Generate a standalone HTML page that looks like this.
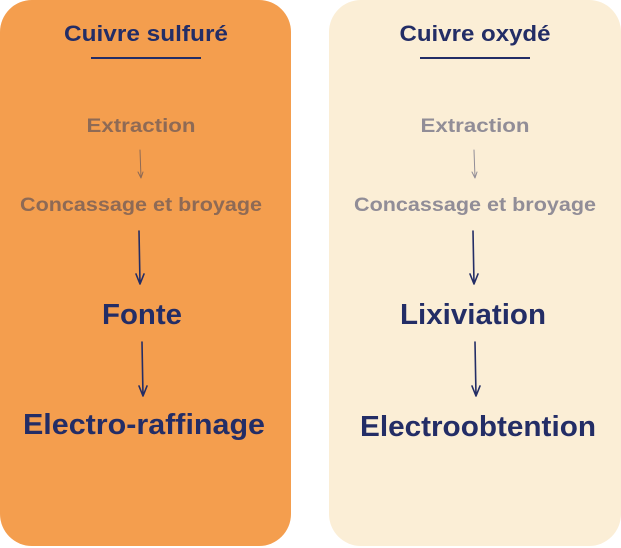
<!DOCTYPE html>
<html><head><meta charset="utf-8"><style>
html,body{margin:0;padding:0;background:#fff;}
svg{display:block;}
text{font-family:"Liberation Sans",sans-serif;font-weight:bold;text-anchor:middle;}
</style></head><body>
<svg width="621" height="548" viewBox="0 0 621 548">
<rect x="0" y="0" width="291" height="546" rx="32" fill="#F49E4E"/>
<rect x="329" y="0" width="292" height="546" rx="32" fill="#FBEED6"/>
<g fill="#232D66">
<text x="146" y="41" font-size="22" textLength="164" lengthAdjust="spacingAndGlyphs">Cuivre sulfuré</text>
<text x="475" y="41" font-size="22" textLength="151" lengthAdjust="spacingAndGlyphs">Cuivre oxydé</text>
<text x="142" y="324" font-size="29" textLength="80" lengthAdjust="spacingAndGlyphs">Fonte</text>
<text x="144" y="434" font-size="29" textLength="242" lengthAdjust="spacingAndGlyphs">Electro-raffinage</text>
<text x="473" y="324" font-size="29" textLength="146" lengthAdjust="spacingAndGlyphs">Lixiviation</text>
<text x="478" y="436" font-size="29" textLength="236" lengthAdjust="spacingAndGlyphs">Electroobtention</text>
</g>
<rect x="91" y="57" width="110" height="2" fill="#232D66"/>
<rect x="420" y="57" width="110" height="2" fill="#232D66"/>
<g fill="#8E6A55">
<text x="141" y="132" font-size="19" textLength="109" lengthAdjust="spacingAndGlyphs">Extraction</text>
<text x="141" y="211" font-size="19" textLength="242" lengthAdjust="spacingAndGlyphs">Concassage et broyage</text>
</g>
<g fill="#918D97">
<text x="475" y="132" font-size="19" textLength="109" lengthAdjust="spacingAndGlyphs">Extraction</text>
<text x="475" y="211" font-size="19" textLength="242" lengthAdjust="spacingAndGlyphs">Concassage et broyage</text>
</g>
<g fill="none" stroke-linecap="round" stroke-linejoin="round">
<path d="M140 150 L141 178 M138 172 L141 178 L143 172" stroke="#8E6A55" stroke-width="1"/>
<path d="M474 150 L475 178 M472 172 L475 178 L477 172" stroke="#918D97" stroke-width="1"/>
<g stroke="#232D66" stroke-width="1.6">
<path d="M139 231 L140 284 M136 274 L140 284 L144 274"/>
<path d="M142 342 L143 396 M139 386 L143 396 L147 386"/>
<path d="M473 231 L474 284 M470 274 L474 284 L478 274"/>
<path d="M475 342 L476 396 M472 386 L476 396 L480 386"/>
</g>
</g>
</svg>
</body></html>
